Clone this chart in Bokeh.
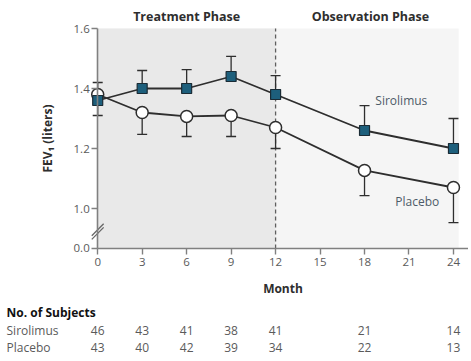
from bokeh.plotting import figure
from bokeh.models import ColumnDataSource, BoxAnnotation, FixedTicker, PrintfTickFormatter
from bokeh.core.properties import value
from bokeh.embed import file_html
from bokeh.resources import INLINE

months = [0, 3, 6, 9, 12, 18, 24]
sirolimus = [1.36, 1.40, 1.40, 1.44, 1.38, 1.26, 1.20]
sirolimus_err = [0.06, 0.06, 0.063, 0.067, 0.063, 0.083, 0.10]
placebo = [1.38, 1.32, 1.307, 1.31, 1.27, 1.127, 1.07]
placebo_err = [0.07, 0.073, 0.067, 0.07, 0.07, 0.084, 0.117]
n_sirolimus = ["46", "43", "41", "38", "41", "21", "14"]
n_placebo = ["43", "40", "42", "39", "34", "22", "13"]
x_ticks = [0, 3, 6, 9, 12, 15, 18, 21, 24]
y_ticks = [1.0, 1.2, 1.4, 1.6]
y_break = 0.8667  # position that stands for 0.0 after the axis break
y_top = 1.6

FONT = "Open Sans"
DARK = "#2e2e2e"
GREY = "#5a5a5a"

W, H = 468, 358
PX_X = 355 / 24.0      # pixels per month
PX_Y = 300.0           # pixels per litre
LEFT, TOP = 97, 28     # frame offset of month 0 / 1.6 litres
x0 = -LEFT / PX_X
x1 = (W - 1 - LEFT) / PX_X
y1 = y_top + TOP / PX_Y
y0 = y_top - (H - TOP) / PX_Y
bg_right = 24.35

p = figure(width=W, height=H, output_backend="svg", toolbar_location=None,
           x_range=(x0, x1), y_range=(y0, y1), min_border=0)
p.outline_line_color = None
p.grid.visible = False
p.background_fill_color = "white"
p.border_fill_color = "white"

# plot-area shading
p.add_layout(BoxAnnotation(left=0, right=bg_right, bottom=y_break, top=y_top, fill_color="#f5f5f5",
                           fill_alpha=1, line_color=None, level="underlay"))
p.add_layout(BoxAnnotation(left=0, right=12, bottom=y_break, top=y_top, fill_color="#e9e9e9",
                           fill_alpha=1, line_color=None, level="underlay"))
p.segment(x0=[12], y0=[y_break], x1=[12], y1=[y_top], line_color="#5f5f5f", line_dash="4 3",
          line_width=1.3)

for ax in (p.xaxis[0], p.yaxis[0]):
    ax.axis_line_color = "#808080"
    ax.axis_line_width = 1.6
    ax.major_tick_line_color = "#808080"
    ax.major_tick_line_width = 1.4
    ax.major_tick_out = 6
    ax.major_tick_in = 0
    ax.minor_tick_line_color = None
    ax.major_label_text_font = FONT
    ax.major_label_text_font_size = "11.5px"
    ax.major_label_text_color = GREY
    ax.axis_label_text_font = FONT
    ax.axis_label_text_font_style = "bold"
    ax.axis_label_text_font_size = "12px"
    ax.axis_label_text_color = DARK

p.xaxis.fixed_location = y_break
p.xaxis.bounds = (0, x1)
p.xaxis.ticker = FixedTicker(ticks=x_ticks)
p.xaxis.axis_label = "Month"
p.xaxis.axis_label_standoff = 10
p.xaxis.major_label_standoff = 4

p.yaxis.fixed_location = 0
p.yaxis.bounds = (y_break, y_top)
p.yaxis.ticker = FixedTicker(ticks=[y_break] + y_ticks)
p.yaxis.formatter = PrintfTickFormatter(format="%.1f")
p.yaxis.major_label_overrides = {y_break: "0.0"}
p.yaxis.axis_label = "FEV\u2081 (liters)"
p.yaxis.axis_label_standoff = 14
p.yaxis.major_label_standoff = 2

# axis break marks
p.segment(x0=[-0.4, -0.4], y0=[0.897, 0.909], x1=[0.4, 0.4], y1=[0.937, 0.949],
          line_color="#666666", line_width=1.3)

src = ColumnDataSource(dict(
    x=months, s=sirolimus, s_top=[v + e for v, e in zip(sirolimus, sirolimus_err)],
    pl=placebo, pl_bot=[v - e for v, e in zip(placebo, placebo_err)]))

# error bars
p.segment(x0="x", y0="s", x1="x", y1="s_top", source=src, line_color=DARK, line_width=1.3)
p.scatter(x="x", y="s_top", marker="dash", size=10, source=src, line_color=DARK, line_width=1.3)
p.segment(x0="x", y0="pl", x1="x", y1="pl_bot", source=src, line_color=DARK, line_width=1.3)
p.scatter(x="x", y="pl_bot", marker="dash", size=10, source=src, line_color=DARK, line_width=1.3)

# lines and markers
p.line(x="x", y="pl", source=src, line_color=DARK, line_width=1.8)
p.line(x="x", y="s", source=src, line_color=DARK, line_width=1.8)
p.scatter(x="x", y="pl", source=src, marker="circle", size=12, fill_color="white",
          line_color=DARK, line_width=1.5)
p.scatter(x="x", y="s", source=src, marker="square", size=10, fill_color="#1d5f7c",
          line_color="#1a2b35", line_width=1.2)

common = dict(text_font=value(FONT), text_font_size="12px", text_baseline="middle")

# series labels
p.text(x=[18.73], y=[1.36], text=["Sirolimus"], text_color="#4d5b68", **common)
p.text(x=[20.08], y=[1.023], text=["Placebo"], text_color="#4d5b68", **common)

# phase titles
p.text(x=[6.0, 18.4], y=[1.64, 1.64], text=["Treatment Phase", "Observation Phase"],
       text_align="center", text_color=DARK, text_font_style="bold",
       text_font=value(FONT), text_font_size="12.5px", text_baseline="middle")

# table of subjects
row_x = -6.15
y_head, y_sir, y_pla = 0.6533, 0.5917, 0.5383
p.text(x=[row_x], y=[y_head], text=["No. of Subjects"], text_color="#111111",
       text_font_style="bold", **common)
p.text(x=[row_x, row_x], y=[y_sir, y_pla], text=["Sirolimus", "Placebo"],
       text_color=GREY, **common)
tab = ColumnDataSource(dict(x=months, ys=[y_sir] * len(months), yp=[y_pla] * len(months),
                            ns=n_sirolimus, np_=n_placebo))
p.text(x="x", y="ys", text="ns", source=tab, text_align="center", text_color=GREY, **common)
p.text(x="x", y="yp", text="np_", source=tab, text_align="center", text_color=GREY, **common)

open("out.html", "w").write(file_html(p, INLINE))
